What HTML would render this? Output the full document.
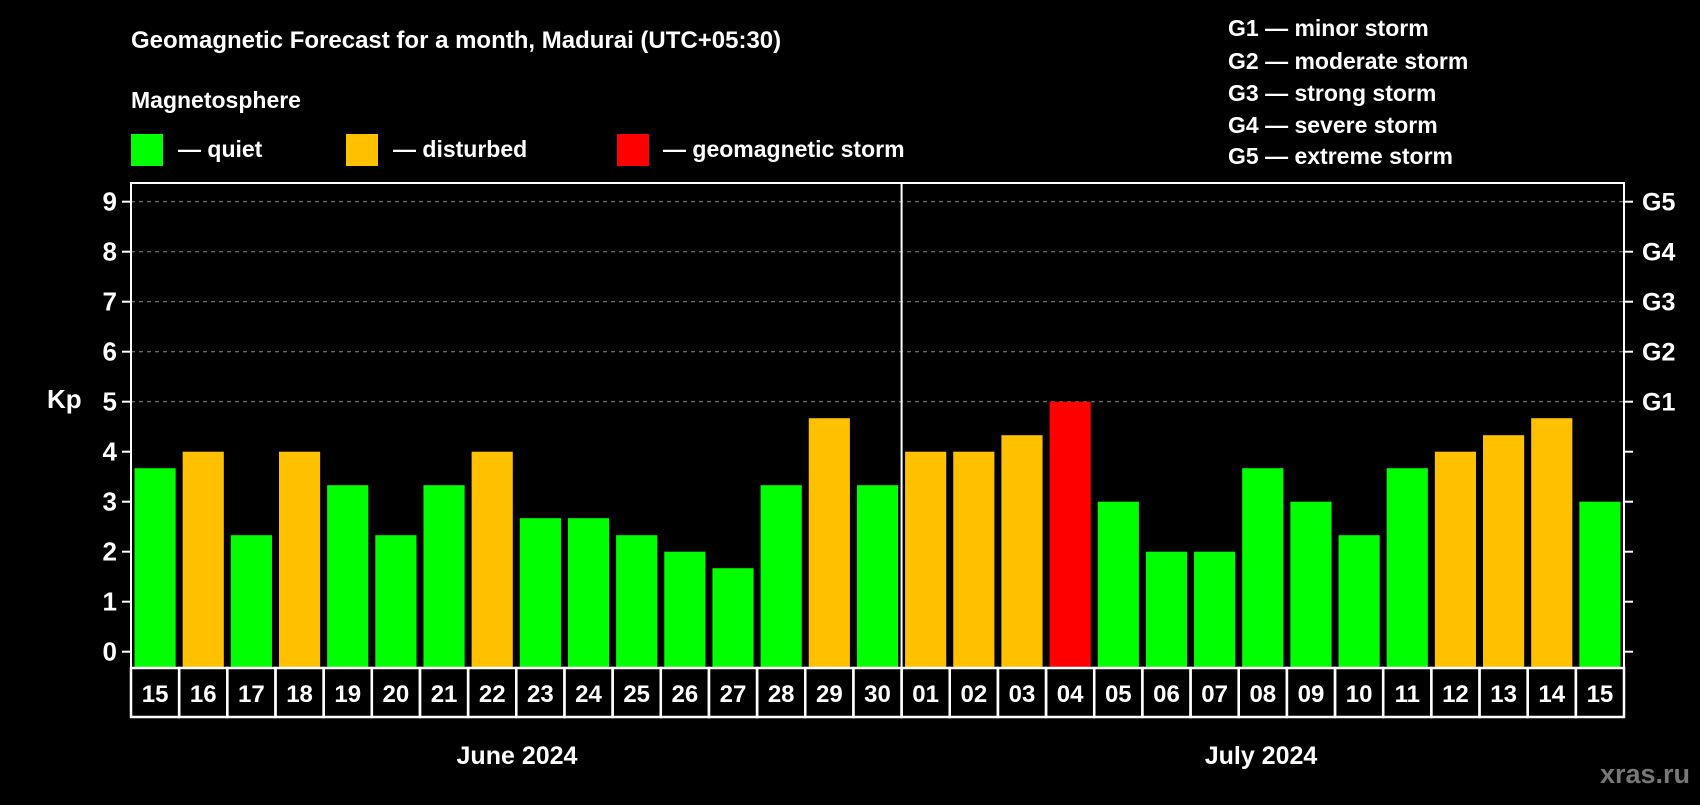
<!DOCTYPE html>
<html><head><meta charset="utf-8"><style>
body{margin:0;background:#000;}
svg text{font-family:"Liberation Sans",sans-serif;font-weight:bold;fill:#fff;}
</style></head><body>
<svg id="c" width="1700" height="800" xmlns="http://www.w3.org/2000/svg">
<rect width="1700" height="800" fill="#000"/>
<text x="131" y="48" font-size="24">Geomagnetic Forecast for a month, Madurai (UTC+05:30)</text>
<text x="131" y="108" font-size="23">Magnetosphere</text>
<g><rect x="131" y="134" width="32" height="32" fill="#00ff00"/><text x="178" y="157" font-size="23">— quiet</text></g>
<g><rect x="346" y="134" width="32" height="32" fill="#ffc000"/><text x="393" y="157" font-size="23">— disturbed</text></g>
<g><rect x="617" y="134" width="32" height="32" fill="#ff0000"/><text x="663" y="157" font-size="23">— geomagnetic storm</text></g>
<g font-size="23">
<text x="1228" y="36">G1 — minor storm</text>
<text x="1228" y="69">G2 — moderate storm</text>
<text x="1228" y="101">G3 — strong storm</text>
<text x="1228" y="133">G4 — severe storm</text>
<text x="1228" y="164">G5 — extreme storm</text>
</g>
<g id="plot"></g>
<text x="47" y="408" font-size="26">Kp</text>
<text x="517" y="764" font-size="25" text-anchor="middle">June 2024</text>
<text x="1261" y="764" font-size="25" text-anchor="middle">July 2024</text>
<text x="1690" y="783" font-size="27" text-anchor="end" style="fill:#777">xras.ru</text>
</svg>
<script>
const days=["15","16","17","18","19","20","21","22","23","24","25","26","27","28","29","30","01","02","03","04","05","06","07","08","09","10","11","12","13","14","15"];
const kp=[3.67,4,2.33,4,3.33,2.33,3.33,4,2.67,2.67,2.33,2,1.67,3.33,4.67,3.33,4,4,4.33,5,3,2,2,3.67,3,2.33,3.67,4,4.33,4.67,3];
const yTicks=[0,1,2,3,4,5,6,7,8,9];
const gLabels=["G1","G2","G3","G4","G5"];
const L=131,R=1624,T=183,B=668,Y0=651.7,PU=50;
const NS="http://www.w3.org/2000/svg";
const g=document.getElementById('plot');
const sw=(R-L)/days.length;
const y=v=>Y0-v*PU;
const x=i=>L+i*sw;
function mk(t,a){const e=document.createElementNS(NS,t);for(const k in a)e.setAttribute(k,a[k]);g.appendChild(e);return e;}
yTicks.forEach(v=>{
 if(v>=5){const gl=mk('line',{x1:L,x2:R,y1:y(v),y2:y(v),stroke:'#888','stroke-dasharray':'4,4','stroke-width':1});
 
 }
 const t1=mk('line',{x1:L-9,x2:L,y1:y(v),y2:y(v),stroke:'#fff','stroke-width':2});
 
 
 const t2=mk('line',{x1:R,x2:R+9,y1:y(v),y2:y(v),stroke:'#fff','stroke-width':2});
 
 
 const tl=mk('text',{x:L-14,y:y(v)+9,'text-anchor':'end','font-size':26});tl.textContent=v;
 
 
});
gLabels.forEach((s,i)=>{const t=mk('text',{x:R+18,y:y(5+i)+9,'font-size':25});t.textContent=s;
 
 });
kp.forEach((v,i)=>{
 const c=v>=5?'#ff0000':(v>=4?'#ffc000':'#00ff00');
 const b=mk('rect',{x:x(i)+3.5,y:y(v),width:sw-7,height:B-y(v),fill:c});
 
 
 const bx=mk('rect',{x:x(i),y:B,width:sw,height:49,fill:'none',stroke:'#fff','stroke-width':2.5});
 
 
 const t=mk('text',{x:x(i)+sw/2,y:B+34,'text-anchor':'middle','font-size':24});t.textContent=days[i];
 
 
});
const fr=mk('rect',{x:L,y:T,width:R-L,height:B-T,fill:'none',stroke:'#fff','stroke-width':2});


const dv=mk('line',{x1:x(16),x2:x(16),y1:T,y2:B,stroke:'#fff','stroke-width':2});


</script>
</body></html>
